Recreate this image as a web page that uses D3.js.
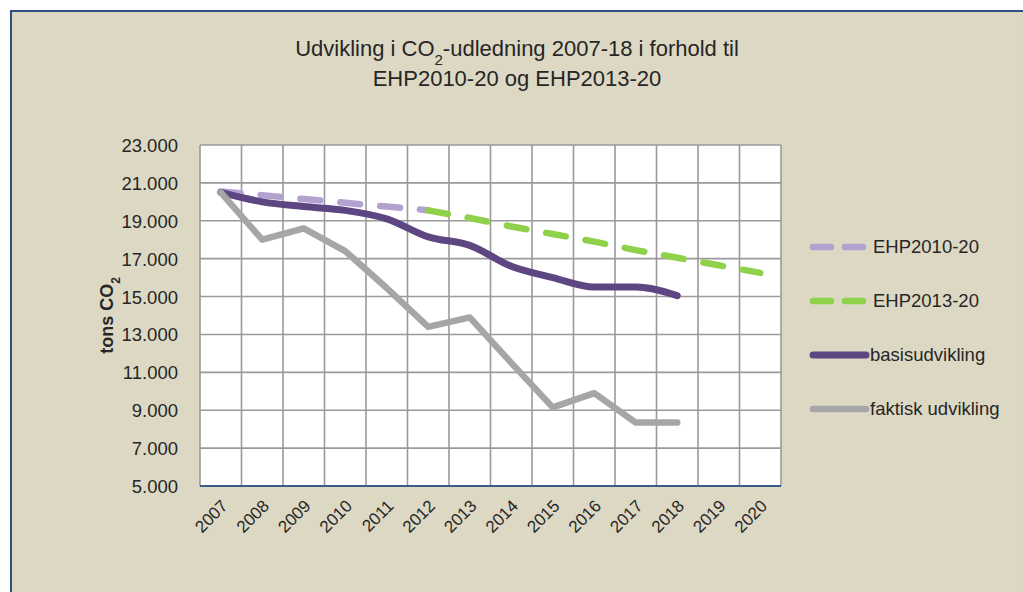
<!DOCTYPE html>
<html>
<head>
<meta charset="utf-8">
<script src="https://cdnjs.cloudflare.com/ajax/libs/d3/7.8.5/d3.min.js"></script>
<style>
  html, body { margin: 0; padding: 0; overflow: hidden; background: #ffffff; }
  svg { display: block; }
  svg text { font-family: "Liberation Sans", Arial, sans-serif; fill: #262626; }
</style>
</head>
<body>
<div id="chart"></div>
<script>
// data (tons CO2)
var years = ["2007", "2008", "2009", "2010", "2011", "2012", "2013", "2014", "2015", "2016", "2017", "2018", "2019", "2020"];
var ehp2010 = [20550, 20350, 20150, 19950, 19750, 19550];            // 2007-2012
var ehp2013 = [19550, 19150, 18700, 18300, 17900, 17450, 17050, 16650, 16250]; // 2012-2020
var basis = [20500, 20000, 19750, 19550, 19100, 18150, 17700, 16600, 16000, 15500, 15500, 15050]; // 2007-2018
var faktisk = [20500, 18000, 18600, 17400, 15450, 13400, 13900, 11500, 9150, 9900, 8350, 8350];  // 2007-2018
var yTicks = [5000, 7000, 9000, 11000, 13000, 15000, 17000, 19000, 21000, 23000];
var seriesNames = ["EHP2010-20", "EHP2013-20", "basisudvikling", "faktisk udvikling"];

var width = 1023, height = 592;
var plot = { left: 200, right: 781, top: 145, bottom: 486 };

var svg = d3.select("#chart").append("svg")
    .attr("width", width)
    .attr("height", height);

// chart area: only the top and left edges of its frame are in the picture
svg.append("rect")
    .attr("x", 11).attr("y", 11)
    .attr("width", width - 11).attr("height", height - 11)
    .attr("fill", "#ddd8c3");
svg.append("path")
    .attr("d", "M11," + height + "V11H" + width)
    .attr("fill", "none")
    .attr("stroke", "#2f4f80")
    .attr("stroke-width", 2);

var x = d3.scaleBand().domain(years).range([plot.left, plot.right]);
var y = d3.scaleLinear().domain([5000, 23000]).range([plot.bottom, plot.top]);

svg.append("rect")
    .attr("x", plot.left).attr("y", plot.top)
    .attr("width", plot.right - plot.left).attr("height", plot.bottom - plot.top)
    .attr("fill", "#ffffff");

// grid
var grid = svg.append("g").attr("stroke", "#9a9a9a").attr("stroke-width", 1.6);
grid.selectAll("line.h")
    .data(yTicks)
    .enter().append("line")
    .attr("x1", plot.left).attr("x2", plot.right)
    .attr("y1", function (d) { return y(d); })
    .attr("y2", function (d) { return y(d); });
grid.selectAll("line.v")
    .data(years.concat(["end"]))
    .enter().append("line")
    .attr("x1", function (d, i) { return plot.left + i * x.step(); })
    .attr("x2", function (d, i) { return plot.left + i * x.step(); })
    .attr("y1", plot.top).attr("y2", plot.bottom);

// axes
var yAxis = svg.append("g")
    .attr("transform", "translate(" + (plot.left - 19) + ",0)")
    .call(d3.axisLeft(y).tickValues(yTicks).tickSize(0)
        .tickFormat(function (d) { return d3.format(",")(d).replace(",", "."); }));
yAxis.select(".domain").remove();
yAxis.selectAll("text").attr("font-size", 18.5).attr("dy", "0.35em")
    .style("font-family", "'Liberation Sans', Arial, sans-serif").attr("fill", "#262626");

svg.append("line")
    .attr("x1", plot.left).attr("x2", plot.right)
    .attr("y1", plot.bottom).attr("y2", plot.bottom)
    .attr("stroke", "#3a5a8a").attr("stroke-width", 2);

var xAxis = svg.append("g")
    .attr("transform", "translate(0," + plot.bottom + ")")
    .call(d3.axisBottom(x).tickSize(0));
xAxis.select(".domain").remove();
xAxis.selectAll("text")
    .attr("font-size", 17)
    .attr("fill", "#262626")
    .style("font-family", "'Liberation Sans', Arial, sans-serif")
    .attr("text-anchor", "end")
    .attr("dy", 0)
    .attr("y", 0)
    .attr("transform", "translate(8,21) rotate(-45)");

// axis title
svg.append("text")
    .attr("transform", "translate(113," + ((plot.top + plot.bottom) / 2) + ") rotate(-90)")
    .attr("text-anchor", "middle")
    .attr("font-size", 18)
    .attr("font-weight", "bold")
    .html("tons CO<tspan baseline-shift='sub' font-size='12'>2</tspan>");

// chart title
var title = svg.append("text").attr("text-anchor", "middle").attr("font-size", 22);
title.append("tspan").attr("x", 517).attr("y", 56)
    .html("Udvikling i CO<tspan baseline-shift='sub' font-size='15'>2</tspan><tspan baseline-shift='0'>-udledning 2007-18 i forhold til</tspan>");
title.append("tspan").attr("x", 517).attr("y", 86).text("EHP2010-20 og EHP2013-20");

// lines
function cx(yr) { return x(yr) + x.bandwidth() / 2; }
var lineStraight = d3.line()
    .x(function (d) { return cx(d.year); })
    .y(function (d) { return y(d.value); });
var lineSmooth = d3.line()
    .curve(d3.curveMonotoneX)
    .x(function (d) { return cx(d.year); })
    .y(function (d) { return y(d.value); });

function pairs(values, startIndex) {
    return values.map(function (v, i) { return { year: years[startIndex + i], value: v }; });
}

var styles = [
    { color: "#b3a2d0", width: 6.5, dash: "20,20", smooth: false, data: pairs(ehp2010, 0) },
    { color: "#8fd14b", width: 6.5, dash: "20,20", smooth: false, data: pairs(ehp2013, 5) },
    { color: "#5d4682", width: 7, dash: null, smooth: true, data: pairs(basis, 0) },
    { color: "#a6a6a6", width: 6.5, dash: null, smooth: false, data: pairs(faktisk, 0) }
];

var lines = svg.append("g").attr("fill", "none").attr("stroke-linecap", "round").attr("stroke-linejoin", "round");
lines.selectAll("path")
    .data(styles)
    .enter().append("path")
    .attr("d", function (s) { return s.smooth ? lineSmooth(s.data) : lineStraight(s.data); })
    .attr("stroke", function (s) { return s.color; })
    .attr("stroke-width", function (s) { return s.width; })
    .attr("stroke-dasharray", function (s) { return s.dash; });

// legend
var legend = svg.append("g").attr("transform", "translate(810,247)");
var item = legend.selectAll("g")
    .data(styles)
    .enter().append("g")
    .attr("transform", function (s, i) { return "translate(0," + (i * 54) + ")"; });
item.append("line")
    .attr("x1", 3).attr("x2", 56)
    .attr("stroke", function (s) { return s.color; })
    .attr("stroke-width", function (s) { return s.width; })
    .attr("stroke-linecap", "round")
    .attr("stroke-dasharray", function (s) { return s.dash ? "18,14" : null; });
item.append("text")
    .attr("x", function (s) { return s.dash ? 63 : 60; })
    .attr("dy", "0.35em")
    .attr("font-size", 18.5)
    .text(function (s, i) { return seriesNames[i]; });
</script>
</body>
</html>
